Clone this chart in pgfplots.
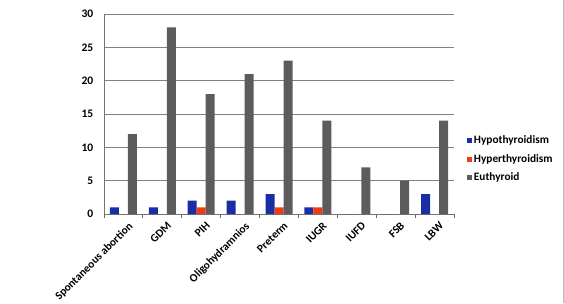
\documentclass[border=0pt]{standalone}
\usepackage{pgfplots}
\pgfplotsset{compat=1.18}
\usepackage{fontspec}
\setmainfont{Carlito}
\definecolor{hypo}{RGB}{25,45,165}
\definecolor{hyper}{RGB}{240,60,20}
\definecolor{eu}{RGB}{92,92,92}
\begin{document}
\begin{tikzpicture}[x=1pt,y=1pt]
\useasboundingbox (0,0) rectangle (564,303);
\draw[gray!55,line width=1pt] (563,0) -- (563,303);
\begin{axis}[
  at={(104pt,89pt)}, anchor=south west,
  scale only axis, width=350pt, height=200pt,
  ybar=0pt, bar width=9pt,
  xmin=-0.5, xmax=8.5, ymin=0, ymax=30,
  ytick={0,5,...,30},
  xtick={0,...,8},
  xticklabels={Spontaneous abortion,GDM,PIH,Oligohydramnios,Preterm,IUGR,IUFD,FSB,LBW},
  minor xtick={-0.5,0.5,...,8.5},
  major x tick style={draw=none},
  minor x tick style={draw=black!60, line width=0.8pt},
  minor tick length=4pt,
  tick align=outside,
  ytick style={draw=none},
  axis x line*=bottom, axis y line*=left,
  axis line style={black!55, line width=0.9pt},
  ymajorgrids, grid style={black!50, line width=0.9pt},
  xticklabel style={rotate=45, anchor=north east, font=\bfseries\fontsize{11.3}{13}\selectfont, inner sep=1pt, yshift=-4pt, xshift=2pt},
  yticklabel style={font=\bfseries\fontsize{11.5}{13}\selectfont, xshift=-3pt},
  /pgf/number format/assume math mode=true,
  legend style={at={(1.035,0.275)}, anchor=west, draw=none, fill=none,
    font=\bfseries\fontsize{11.3}{13}\selectfont, row sep=5pt, inner sep=1pt,
    legend cell align=left,
    nodes={inner xsep=1.5pt}},
  legend image code/.code={\fill[#1] (0pt,-2.5pt) rectangle (5pt,2.5pt);},
]
\addplot[draw=none, fill=hypo] coordinates {(0,1) (1,1) (2,2) (3,2) (4,3) (5,1) (6,0) (7,0) (8,3)};
\addplot[draw=none, fill=hyper] coordinates {(0,0) (1,0) (2,1) (3,0) (4,1) (5,1) (6,0) (7,0) (8,0)};
\addplot[draw=none, fill=eu] coordinates {(0,12) (1,28) (2,18) (3,21) (4,23) (5,14) (6,7) (7,5) (8,14)};
\legend{Hypothyroidism,Hyperthyroidism,Euthyroid}
\end{axis}
\end{tikzpicture}
\end{document}
